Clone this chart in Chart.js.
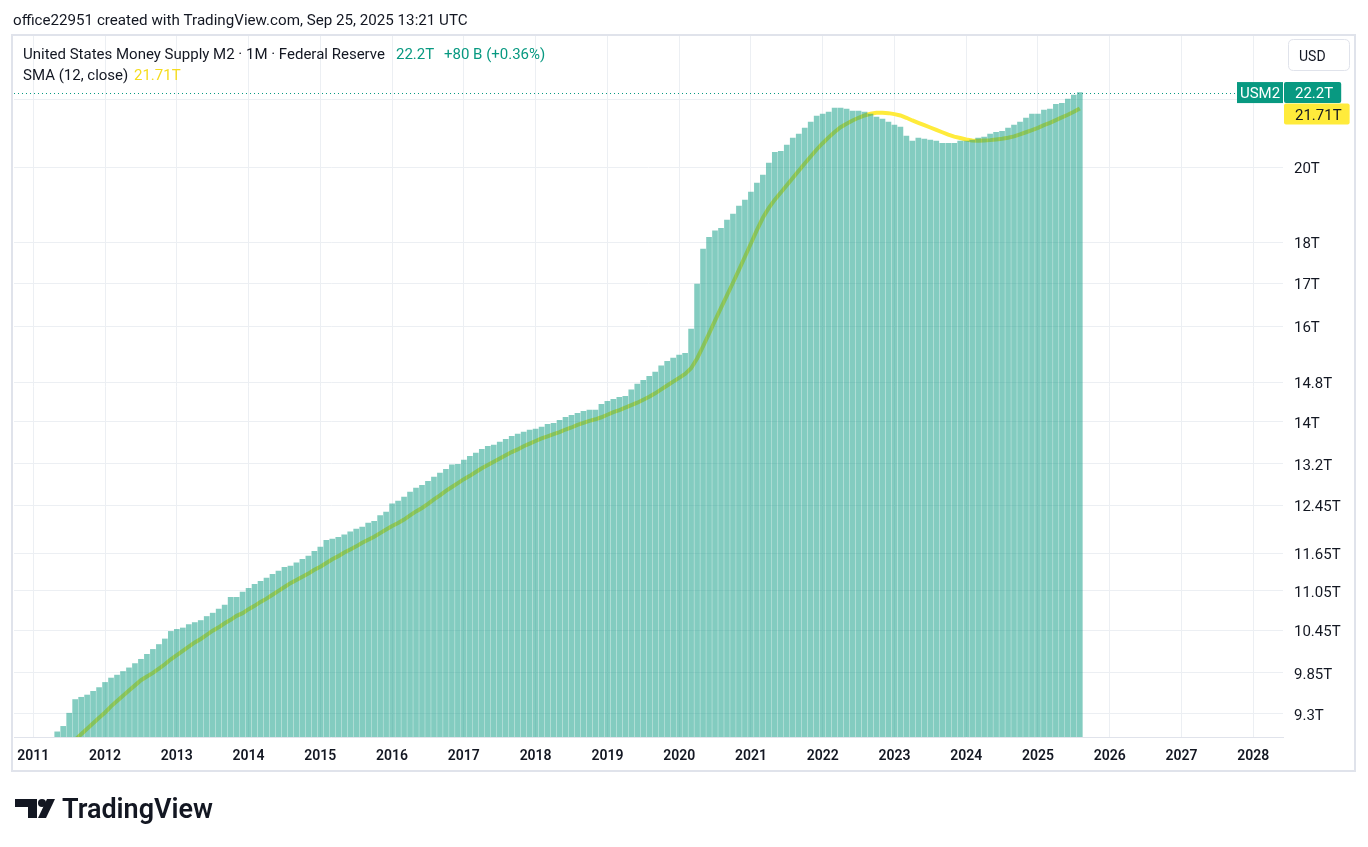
<!DOCTYPE html>
<html>
<head>
<meta charset="utf-8">
<title>United States Money Supply M2</title>
<script src="https://cdn.jsdelivr.net/npm/chart.js@4.4.1/dist/chart.umd.min.js"></script>
<style>
  html, body { margin: 0; padding: 0; background: #ffffff; }
  canvas { display: block; }
</style>
</head>
<body>
<canvas id="chart" width="1368" height="847"></canvas>
<script>
// first bar is May 2011, one value per month up to Aug 2025 (trillions USD)
const firstYear = 2011
const firstMonth = 5

const m2 = [
  9.07, 9.14, 9.31, 9.49, 9.52, 9.55, 9.60, 9.65,
  9.72, 9.78, 9.82, 9.87, 9.92, 9.98, 10.04, 10.11, 10.18, 10.25, 10.33, 10.44,
  10.47, 10.49, 10.54, 10.57, 10.60, 10.66, 10.71, 10.77, 10.83, 10.95, 10.95, 11.03,
  11.09, 11.15, 11.20, 11.25, 11.31, 11.36, 11.42, 11.44, 11.49, 11.55, 11.60, 11.68,
  11.75, 11.86, 11.88, 11.91, 11.95, 12.00, 12.05, 12.08, 12.15, 12.18, 12.28, 12.34,
  12.48, 12.53, 12.60, 12.69, 12.76, 12.81, 12.88, 12.96, 13.03, 13.10, 13.18, 13.19,
  13.27, 13.34, 13.40, 13.47, 13.53, 13.55, 13.61, 13.66, 13.72, 13.76, 13.80, 13.84,
  13.86, 13.90, 13.95, 13.97, 14.03, 14.09, 14.13, 14.17, 14.21, 14.23, 14.23, 14.35,
  14.41, 14.45, 14.49, 14.51, 14.64, 14.76, 14.84, 14.92, 15.01, 15.14, 15.24, 15.31,
  15.37, 15.41, 15.94, 16.98, 17.83, 18.13, 18.29, 18.36, 18.57, 18.73, 18.94, 19.10,
  19.31, 19.56, 19.78, 20.11, 20.42, 20.45, 20.63, 20.83, 20.95, 21.12, 21.30, 21.48,
  21.54, 21.60, 21.72, 21.72, 21.69, 21.63, 21.63, 21.60, 21.54, 21.45, 21.39, 21.30,
  21.21, 21.15, 20.89, 20.74, 20.83, 20.80, 20.77, 20.74, 20.68, 20.68, 20.68, 20.74,
  20.74, 20.77, 20.83, 20.86, 20.95, 21.00, 21.03, 21.12, 21.21, 21.30, 21.42, 21.54,
  21.54, 21.66, 21.69, 21.84, 21.87, 22.00, 22.12, 22.20
]

const sma12 = [
  8.80, 8.85, 8.90, 8.97, 9.04, 9.11, 9.18, 9.25,
  9.32, 9.40, 9.47, 9.54, 9.61, 9.68, 9.75, 9.80, 9.85, 9.91, 9.97, 10.04,
  10.10, 10.16, 10.22, 10.28, 10.33, 10.39, 10.45, 10.50, 10.56, 10.61, 10.67, 10.71,
  10.77, 10.82, 10.88, 10.93, 10.99, 11.05, 11.11, 11.17, 11.22, 11.27, 11.32, 11.38,
  11.43, 11.49, 11.55, 11.60, 11.66, 11.71, 11.76, 11.82, 11.87, 11.92, 11.98, 12.04,
  12.10, 12.15, 12.21, 12.28, 12.35, 12.41, 12.48, 12.56, 12.63, 12.71, 12.78, 12.85,
  12.92, 12.98, 13.05, 13.12, 13.18, 13.24, 13.30, 13.36, 13.42, 13.47, 13.53, 13.58,
  13.63, 13.68, 13.72, 13.76, 13.80, 13.85, 13.89, 13.94, 13.98, 14.02, 14.05, 14.09,
  14.14, 14.19, 14.23, 14.28, 14.33, 14.38, 14.44, 14.50, 14.57, 14.65, 14.73, 14.81,
  14.89, 14.97, 15.09, 15.30, 15.56, 15.84, 16.13, 16.42, 16.71, 17.01, 17.32, 17.64,
  17.97, 18.31, 18.63, 18.89, 19.11, 19.30, 19.50, 19.70, 19.90, 20.10, 20.30, 20.50,
  20.68, 20.85, 21.01, 21.15, 21.25, 21.35, 21.43, 21.50, 21.55, 21.58, 21.58, 21.57,
  21.54, 21.50, 21.43, 21.35, 21.28, 21.21, 21.14, 21.07, 21.00, 20.93, 20.87, 20.83,
  20.79, 20.76, 20.75, 20.76, 20.77, 20.79, 20.81, 20.84, 20.88, 20.94, 21.00, 21.06,
  21.13, 21.21, 21.28, 21.36, 21.44, 21.52, 21.61, 21.71
]

const yearTicks = [2011, 2012, 2013, 2014, 2015, 2016, 2017, 2018, 2019, 2020, 2021, 2022, 2023, 2024, 2025, 2026, 2027, 2028]
const priceTicks = [9.3, 9.85, 10.45, 11.05, 11.65, 12.45, 13.2, 14, 14.8, 16, 17, 18, 20, 22]
const priceTickLabels = ['9.3T', '9.85T', '10.45T', '11.05T', '11.65T', '12.45T', '13.2T', '14T', '14.8T', '16T', '17T', '18T', '20T', '']

const lastValueText = '22.2T'
const lastChangeText = '+80 B (+0.36%)'
const lastSmaText = '21.71T'

const green = '#089981'
const yellow = '#ffeb3b'
const textColor = '#131722'
const gridColor = '#eceff3'
const fontFamily = 'Roboto, "Noto Sans", sans-serif'

function monthX(i) {
  return firstYear + (firstMonth - 1 + i) / 12
}

function fitFont(ctx, text, width, weight) {
  ctx.font = weight + ' 20px ' + fontFamily
  let size = 20 * width / ctx.measureText(text).width
  ctx.font = weight + ' ' + size.toFixed(2) + 'px ' + fontFamily
}

function roundRect(ctx, x, y, w, h, r) {
  ctx.beginPath()
  ctx.moveTo(x + r, y)
  ctx.lineTo(x + w - r, y)
  ctx.quadraticCurveTo(x + w, y, x + w, y + r)
  ctx.lineTo(x + w, y + h - r)
  ctx.quadraticCurveTo(x + w, y + h, x + w - r, y + h)
  ctx.lineTo(x + r, y + h)
  ctx.quadraticCurveTo(x, y + h, x, y + h - r)
  ctx.lineTo(x, y + r)
  ctx.quadraticCurveTo(x, y, x + r, y)
  ctx.closePath()
}

const backgroundPlugin = {
  id: 'whiteBackground',
  beforeDraw: (chart) => {
    const { ctx } = chart
    ctx.save()
    ctx.fillStyle = '#ffffff'
    ctx.fillRect(0, 0, chart.width, chart.height)
    ctx.restore()
  }
}

// TradingView furniture: frame, legend, price line and labels, logo
const decorPlugin = {
  id: 'tvDecor',
  afterDatasetsDraw: (chart) => {
    const { ctx, chartArea, scales } = chart
    let y = scales.y.getPixelForValue(m2[m2.length - 1])
    ctx.save()
    ctx.strokeStyle = green
    ctx.lineWidth = 1
    ctx.setLineDash([1, 3])
    ctx.beginPath()
    ctx.moveTo(chartArea.left, Math.round(y) + 0.5)
    ctx.lineTo(chartArea.right, Math.round(y) + 0.5)
    ctx.stroke()
    ctx.restore()
  },
  afterDraw: (chart) => {
    const { ctx, chartArea, scales } = chart
    ctx.save()

    // outer frame
    ctx.strokeStyle = '#e0e3eb'
    ctx.lineWidth = 2
    ctx.strokeRect(12, 35, 1343, 736)

    // header line
    ctx.fillStyle = textColor
    ctx.textBaseline = 'middle'
    ctx.textAlign = 'left'
    fitFont(ctx, 'office22951 created with TradingView.com, Sep 25, 2025 13:21 UTC', 455, '400')
    ctx.fillText('office22951 created with TradingView.com, Sep 25, 2025 13:21 UTC', 13, 21)

    // legend
    fitFont(ctx, 'United States Money Supply M2 · 1M · Federal Reserve', 362, '400')
    ctx.fillStyle = textColor
    ctx.fillText('United States Money Supply M2 · 1M · Federal Reserve', 23, 55)
    ctx.fillStyle = green
    ctx.fillText(lastValueText, 396, 55)
    ctx.fillText(lastChangeText, 444, 55)
    ctx.fillStyle = textColor
    ctx.fillText('SMA (12, close)', 23, 76)
    ctx.fillStyle = '#f5dc1e'
    ctx.fillText(lastSmaText, 134, 76)

    // currency button
    ctx.strokeStyle = '#e0e3eb'
    ctx.lineWidth = 1
    roundRect(ctx, 1288.5, 39.5, 61, 31, 5)
    ctx.stroke()
    ctx.fillStyle = textColor
    ctx.font = '400 14px ' + fontFamily
    ctx.fillText('USD', 1299, 57)

    // last value labels on the price axis
    let yLast = scales.y.getPixelForValue(m2[m2.length - 1])
    let ySma = scales.y.getPixelForValue(sma12[sma12.length - 1])
    let h = 21
    let ySma2 = Math.max(ySma, yLast + h + 0.5)
    ctx.font = '400 15px ' + fontFamily
    let axisLeft = chartArea.right

    ctx.fillStyle = green
    ctx.fillRect(axisLeft - 46, yLast - h / 2, 46, h)
    let w1 = ctx.measureText(lastValueText).width
    roundRect(ctx, axisLeft + 1, yLast - h / 2, w1 + 19, h, 2)
    ctx.fill()
    ctx.fillStyle = '#ffffff'
    ctx.textAlign = 'center'
    ctx.fillText('USM2', axisLeft - 23, yLast + 2)
    ctx.textAlign = 'left'
    ctx.fillText(lastValueText, axisLeft + 12, yLast + 2)

    let w2 = ctx.measureText(lastSmaText).width
    ctx.fillStyle = yellow
    roundRect(ctx, axisLeft + 1, ySma2 - h / 2, w2 + 19, h, 2)
    ctx.fill()
    ctx.fillStyle = textColor
    ctx.fillText(lastSmaText, axisLeft + 12, ySma2 + 2)

    // TradingView logo
    ctx.fillStyle = textColor
    ctx.fillRect(15, 799, 22, 8)
    ctx.fillRect(28, 799, 9, 19)
    ctx.beginPath()
    ctx.arc(42, 803, 4, 0, Math.PI * 2)
    ctx.fill()
    ctx.beginPath()
    ctx.moveTo(47, 799)
    ctx.lineTo(55, 799)
    ctx.lineTo(46, 818)
    ctx.lineTo(38, 818)
    ctx.closePath()
    ctx.fill()
    fitFont(ctx, 'TradingView', 151, '600')
    ctx.textBaseline = 'alphabetic'
    ctx.fillText('TradingView', 62, 818)

    ctx.restore()
  }
}

let barData = m2.map((v, i) => ({ x: monthX(i), y: v }))
let smaData = sma12.map((v, i) => ({ x: monthX(i), y: v }))

let chart = new Chart(document.getElementById('chart').getContext('2d'), {
  type: 'bar',
  data: {
    datasets: [{
      type: 'bar',
      label: 'USM2',
      data: barData,
      backgroundColor: 'rgba(8,153,129,0.5)',
      borderWidth: 0,
      barThickness: 5,
      order: 1
    }, {
      type: 'line',
      label: 'SMA (12, close)',
      data: smaData,
      borderColor: yellow,
      borderWidth: 4,
      pointRadius: 0,
      tension: 0,
      clip: 0,
      order: 2
    }]
  },
  plugins: [backgroundPlugin, decorPlugin],
  options: {
    responsive: false,
    animation: false,
    events: [],
    layout: {
      padding: { left: 14, top: 36, right: 13, bottom: 76 }
    },
    plugins: {
      legend: { display: false },
      tooltip: { enabled: false },
      title: { display: false }
    },
    scales: {
      x: {
        type: 'linear',
        min: 2010.731,
        max: 2028.415,
        offset: false,
        afterBuildTicks: (scale) => {
          scale.ticks = yearTicks.map(v => ({ value: v }))
        },
        afterFit: (scale) => {
          scale.height = 34
        },
        grid: { color: gridColor, drawTicks: false, offset: false },
        border: { display: true, color: '#e0e3eb' },
        ticks: {
          padding: 11,
          autoSkip: false,
          maxRotation: 0,
          color: textColor,
          font: { family: fontFamily, size: 14, weight: '600' },
          callback: (v) => String(v)
        }
      },
      y: {
        type: 'logarithmic',
        position: 'right',
        min: 9.005,
        max: 24.03,
        afterBuildTicks: (scale) => {
          scale.ticks = priceTicks.map(v => ({ value: v }))
        },
        afterFit: (scale) => {
          scale.width = 72
        },
        grid: { color: gridColor, drawTicks: false },
        border: { display: false },
        ticks: {
          padding: 11,
          labelOffset: 2,
          autoSkip: false,
          color: textColor,
          font: { family: fontFamily, size: 15 },
          callback: (v, i) => priceTickLabels[i]
        }
      }
    }
  }
})
</script>
</body>
</html>
